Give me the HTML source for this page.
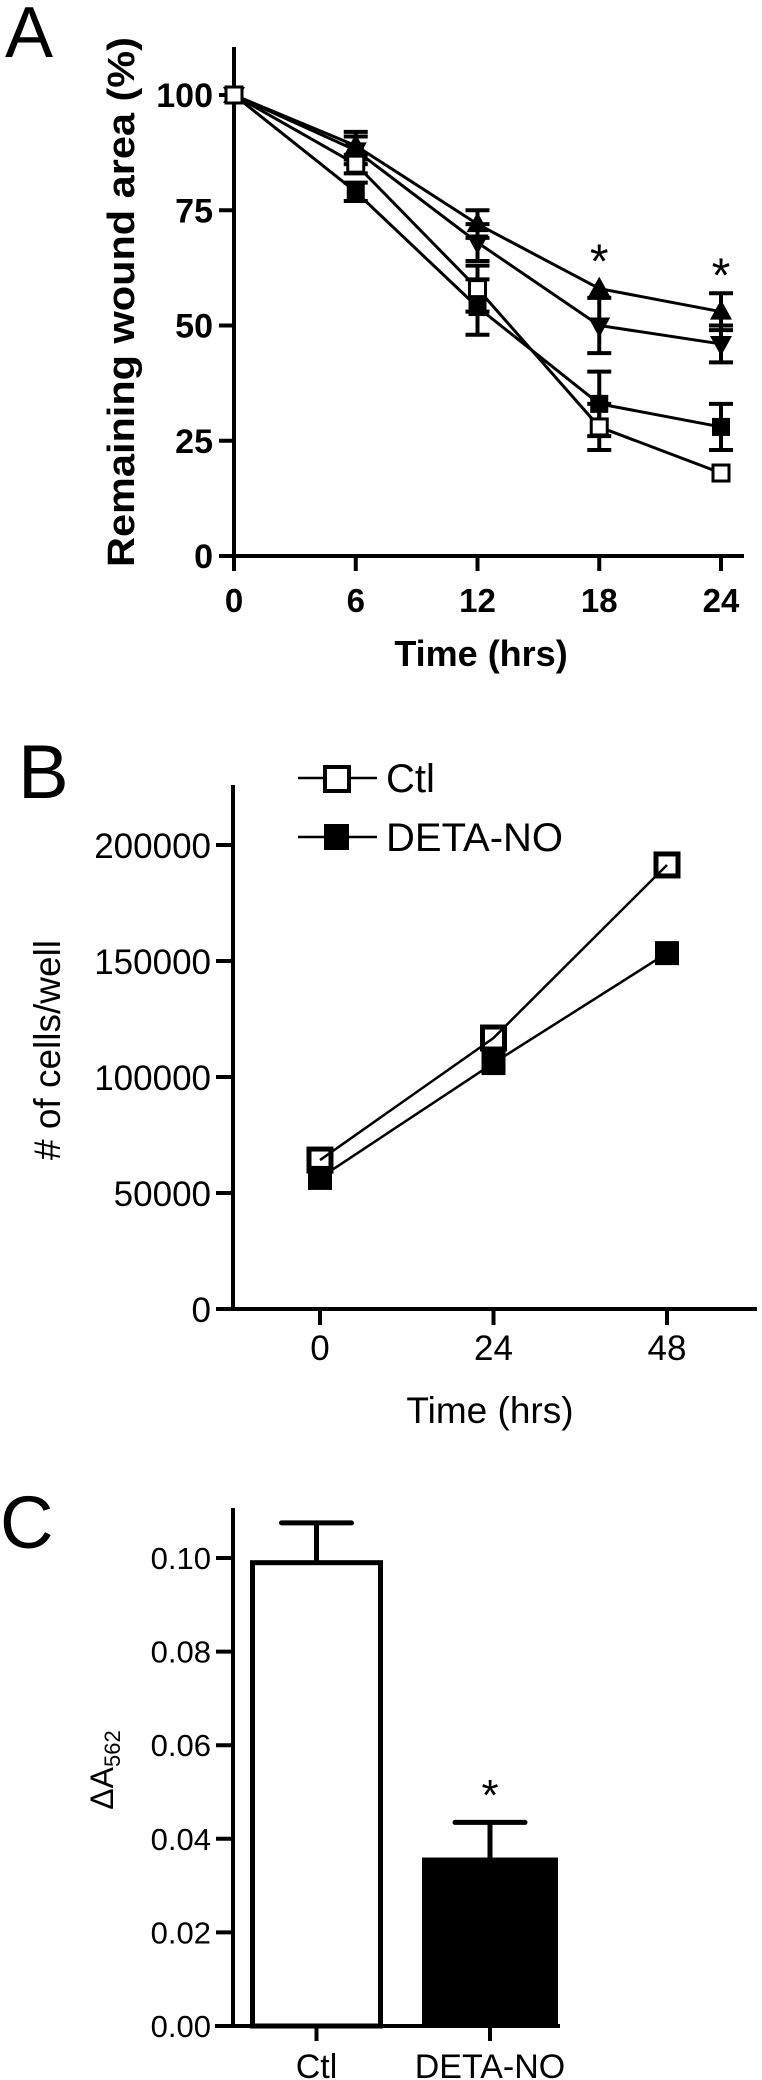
<!DOCTYPE html>
<html><head><meta charset="utf-8">
<style>
html,body{margin:0;padding:0;background:#fff;}
svg{display:block;font-family:"Liberation Sans",Arial,sans-serif;}
</style></head>
<body>
<svg id="fig" width="762" height="2080" viewBox="0 0 762 2080" xmlns="http://www.w3.org/2000/svg">
<rect width="762" height="2080" fill="#fff"/>
<g id="panelA"></g>
<g id="panelB"></g>
<g id="panelC"></g>
</svg>
<script>
// ---------- Panel A data ----------
const aTimes = [0, 6, 12, 18, 24];
const aCtlOpen = [100, 85, 58, 28, 18];
const aCtlOpenErr = [0, 2, 5, 5, 0];
const aSqFilled = [100, 79, 54, 33, 28];
const aSqFilledErr = [0, 2, 6, 7, 5];
const aTriUp = [100, 89, 72, 58, 53];
const aTriUpErr = [0, 3, 3, 0, 4];
const aTriDown = [100, 88, 68, 50, 46];
const aTriDownErr = [0, 3, 4, 6, 4];
const aYTicks = [0, 25, 50, 75, 100];
const aXTicks = [0, 6, 12, 18, 24];
const aStarTimes = [18, 24];
const aStarLevels = [66, 63];
// ---------- Panel B data ----------
const bTimes = [0, 24, 48];
const bCtl = [64200, 116800, 191400];
const bDeta = [56500, 106000, 153400];
const bYTicks = [0, 50000, 100000, 150000, 200000];
const bXTicks = [0, 24, 48];
const bLegend = ["Ctl", "DETA-NO"];
// ---------- Panel C data ----------
const cCats = ["Ctl", "DETA-NO"];
const cVals = [0.099, 0.036];
const cErrs = [0.0085, 0.0075];
const cYTicks = [0.00, 0.02, 0.04, 0.06, 0.08, 0.10];

const NS = "http://www.w3.org/2000/svg";
function mk(parent, tag, attrs, text) {
  const e = document.createElementNS(NS, tag);
  for (const k in attrs) e.setAttribute(k, attrs[k]);
  if (text !== undefined) e.textContent = text;
  parent.appendChild(e);
  return e;
}

// ===== Panel A =====
const A = document.getElementById('panelA');
const axA = t => 234 + t * (721 - 234) / 24;
const ayA = v => 556 - v * 4.61;
let el;
el = mk(A, 'text', {x: 5, y: 57, 'font-size': 72}, 'A');


el = mk(A, 'line', {x1: 234, y1: 47, x2: 234, y2: 558, stroke: '#000', 'stroke-width': 4});


el = mk(A, 'line', {x1: 232, y1: 556, x2: 744, y2: 556, stroke: '#000', 'stroke-width': 4});


aYTicks.forEach(v => {
  el = mk(A, 'line', {x1: 219, y1: ayA(v), x2: 234, y2: ayA(v), stroke: '#000', 'stroke-width': 4});
  
  
  el = mk(A, 'text', {x: 213, y: ayA(v) + 12, 'font-size': 34, 'font-weight': 'bold', 'text-anchor': 'end'}, String(v));
  
  
});
aXTicks.forEach(t => {
  el = mk(A, 'line', {x1: axA(t), y1: 556, x2: axA(t), y2: 571, stroke: '#000', 'stroke-width': 4});
  
  
  el = mk(A, 'text', {x: axA(t), y: 612, 'font-size': 33, 'font-weight': 'bold', 'text-anchor': 'middle'}, String(t));
  
  
});
el = mk(A, 'text', {x: 481, y: 666, 'font-size': 36, 'font-weight': 'bold', 'text-anchor': 'middle'}, 'Time (hrs)');


el = mk(A, 'text', {x: 0, y: 0, 'font-size': 38, 'font-weight': 'bold', 'text-anchor': 'middle', textLength: 530, lengthAdjust: 'spacingAndGlyphs', transform: 'translate(134,302) rotate(-90)'}, 'Remaining wound area (%)');



function seriesA(vals, errs, marker, name) {
  const g = mk(A, 'g', {});
  
  
  let d = '';
  vals.forEach((v, i) => { d += (i ? 'L' : 'M') + axA(aTimes[i]) + ' ' + ayA(v); });
  el = mk(g, 'path', {d: d, fill: 'none', stroke: '#000', 'stroke-width': 3});
  
  
  vals.forEach((v, i) => {
    const x = axA(aTimes[i]), y = ayA(v), e = errs[i];
    if (e > 0) {
      const y1 = ayA(v + e), y2 = ayA(v - e);
      el = mk(g, 'path', {d: `M${x} ${y1}L${x} ${y2}M${x-12} ${y1}L${x+12} ${y1}M${x-12} ${y2}L${x+12} ${y2}`, stroke: '#000', 'stroke-width': 4, fill: 'none'});
      
      
    }
    if (marker === 'open') {
      el = mk(g, 'rect', {x: x - 8, y: y - 8, width: 16, height: 16, fill: '#fff', stroke: '#000', 'stroke-width': 3});
    } else if (marker === 'filled') {
      el = mk(g, 'rect', {x: x - 9, y: y - 9, width: 18, height: 18, fill: '#000'});
    } else if (marker === 'up') {
      el = mk(g, 'path', {d: `M${x} ${y-12}L${x+11} ${y+8}L${x-11} ${y+8}Z`, fill: '#000'});
    } else {
      el = mk(g, 'path', {d: `M${x} ${y+12}L${x+11} ${y-8}L${x-11} ${y-8}Z`, fill: '#000'});
    }
    
    
  });
}
seriesA(aTriUp, aTriUpErr, 'up', 'series-triangle-up');
seriesA(aTriDown, aTriDownErr, 'down', 'series-triangle-down');
seriesA(aSqFilled, aSqFilledErr, 'filled', 'series-filled-square');
seriesA(aCtlOpen, aCtlOpenErr, 'open', 'series-open-square');
aStarTimes.forEach((t, i) => {
  el = mk(A, 'text', {x: axA(t), y: ayA(aStarLevels[i]) + 26, 'font-size': 48, 'text-anchor': 'middle'}, '*');
  
  
});

// ===== Panel B =====
const B = document.getElementById('panelB');
const axB = t => 320 + t * (667 - 320) / 48;
const ayB = v => 1309 - v * 232 / 100000;
el = mk(B, 'text', {x: 18, y: 798, 'font-size': 76}, 'B');


el = mk(B, 'line', {x1: 233, y1: 785, x2: 233, y2: 1311, stroke: '#000', 'stroke-width': 4});


el = mk(B, 'line', {x1: 231, y1: 1309, x2: 757, y2: 1309, stroke: '#000', 'stroke-width': 4});


bYTicks.forEach(v => {
  el = mk(B, 'line', {x1: 216, y1: ayB(v), x2: 233, y2: ayB(v), stroke: '#000', 'stroke-width': 4});
  
  
  el = mk(B, 'text', {x: 211, y: ayB(v) + 13, 'font-size': 35, 'text-anchor': 'end'}, String(v));
  
  
});
bXTicks.forEach(t => {
  el = mk(B, 'line', {x1: axB(t), y1: 1309, x2: axB(t), y2: 1325, stroke: '#000', 'stroke-width': 4});
  
  
  el = mk(B, 'text', {x: axB(t), y: 1360, 'font-size': 35, 'text-anchor': 'middle'}, String(t));
  
  
});
el = mk(B, 'text', {x: 490, y: 1423, 'font-size': 37, 'text-anchor': 'middle'}, 'Time (hrs)');


el = mk(B, 'text', {x: 0, y: 0, 'font-size': 37, 'text-anchor': 'middle', transform: 'translate(60,1050) rotate(-90)'}, '# of cells/well');



function seriesB(vals, filled, name) {
  const g = mk(B, 'g', {});
  
  
  let d = '';
  vals.forEach((v, i) => { d += (i ? 'L' : 'M') + axB(bTimes[i]) + ' ' + ayB(v); });
  el = mk(g, 'path', {d: d, fill: 'none', stroke: '#000', 'stroke-width': 2.5});
  
  
  vals.forEach((v, i) => {
    const x = axB(bTimes[i]), y = ayB(v);
    if (filled) el = mk(g, 'rect', {x: x - 12, y: y - 12, width: 24, height: 24, fill: '#000'});
    else el = mk(g, 'rect', {x: x - 11, y: y - 11, width: 22, height: 22, fill: 'none', stroke: '#000', 'stroke-width': 5});
    
    
  });
}
seriesB(bDeta, true, 'series-deta-no');
seriesB(bCtl, false, 'series-ctl');
// legend
[778, 837].forEach((ly, i) => {
  const g = mk(B, 'g', {});
  
  
  mk(g, 'line', {x1: 298, y1: ly, x2: 377, y2: ly, stroke: '#000', 'stroke-width': 2.5});
  if (i) mk(g, 'rect', {x: 324, y: ly - 13, width: 25, height: 26, fill: '#000'});
  else mk(g, 'rect', {x: 325, y: ly - 11, width: 24, height: 24, fill: '#fff', stroke: '#000', 'stroke-width': 4});
  mk(g, 'text', {x: 386, y: ly + 14, 'font-size': 40}, bLegend[i]);
});

// ===== Panel C =====
const C = document.getElementById('panelC');
const ayC = v => 2026 - v * 93.6 / 0.02;
const bandC = [[250, 383], [422, 558]];
el = mk(C, 'text', {x: 0, y: 1548, 'font-size': 74}, 'C');


cCats.forEach((c, i) => {
  const [x0, x1] = bandC[i];
  const y = ayC(cVals[i]);
  const cx = (x0 + x1) / 2;
  if (i === 0) el = mk(C, 'rect', {x: x0 + 2.5, y: y, width: x1 - x0 - 5, height: 2026 - y, fill: '#fff', stroke: '#000', 'stroke-width': 5});
  else el = mk(C, 'rect', {x: x0, y: y, width: x1 - x0, height: 2026 - y, fill: '#000'});
  
  
  const ye = ayC(cVals[i] + cErrs[i]);
  el = mk(C, 'path', {d: `M${cx} ${y}L${cx} ${ye}M${cx-35} ${ye}L${cx+35} ${ye}`, stroke: '#000', 'stroke-width': 5, fill: 'none', 'stroke-linecap': 'round'});
  
  
  el = mk(C, 'line', {x1: cx, y1: 2026, x2: cx, y2: 2041, stroke: '#000', 'stroke-width': 4});
  
  
  el = mk(C, 'text', {x: cx, y: 2078, 'font-size': 34, 'text-anchor': 'middle'}, c);
  
  
});
el = mk(C, 'text', {x: 490, y: 1810, 'font-size': 44, 'text-anchor': 'middle'}, '*');


el = mk(C, 'line', {x1: 233, y1: 1508, x2: 233, y2: 2028, stroke: '#000', 'stroke-width': 4});


el = mk(C, 'line', {x1: 215, y1: 2026, x2: 560, y2: 2026, stroke: '#000', 'stroke-width': 4});


cYTicks.forEach(v => {
  el = mk(C, 'line', {x1: 216, y1: ayC(v), x2: 233, y2: ayC(v), stroke: '#000', 'stroke-width': 4});
  
  
  el = mk(C, 'text', {x: 211, y: ayC(v) + 11, 'font-size': 31, 'text-anchor': 'end'}, v.toFixed(2));
  
  
});
el = mk(C, 'text', {x: 0, y: 0, 'font-size': 32, 'text-anchor': 'middle', transform: 'translate(113,1770) rotate(-90)'});


mk(el, 'tspan', {}, 'ΔA');
mk(el, 'tspan', {'font-size': 22, dy: 7}, '562');
</script>
</body></html>
